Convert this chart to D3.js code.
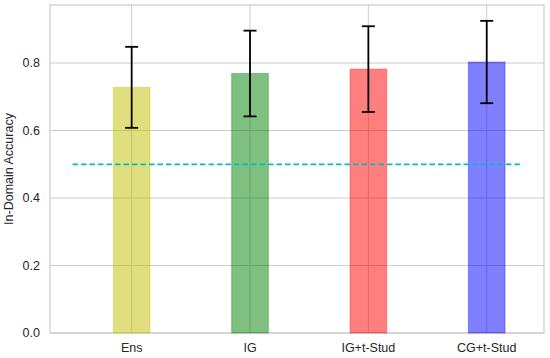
<!DOCTYPE html>
<html>
<head>
<meta charset="utf-8">
<script src="https://cdn.jsdelivr.net/npm/d3@7"></script>
<style>
  body { margin: 0; background: #fff; }
  svg text { font-family: "Liberation Sans", Arial, sans-serif; fill: #262626; }
</style>
</head>
<body>
<svg id="chart"></svg>
<script>
const categories = ["Ens", "IG", "IG+t-Stud", "CG+t-Stud"];
const accuracy = [0.728, 0.769, 0.782, 0.803];
const errors = [0.120, 0.127, 0.127, 0.122];
const barColors = ["#bfbf00", "#008000", "#ff0000", "#0000ff"];
const yTicks = [0.0, 0.2, 0.4, 0.6, 0.8];
const baseline = 0.5;

const width = 550, height = 358;
const margin = { top: 5, right: 6, bottom: 25, left: 50 };

const svg = d3.select("#chart").attr("width", width).attr("height", height);

// index-based x scale (matplotlib style positions)
const x = d3.scaleLinear()
    .domain([-0.69, categories.length - 1 + 0.484])
    .range([margin.left, width - margin.right]);
const y = d3.scaleLinear()
    .domain([0, 0.972])
    .range([height - margin.bottom, margin.top]);

const barW = 0.31;

// grid
svg.append("g").selectAll("line").data(yTicks).enter().append("line")
    .attr("x1", margin.left).attr("x2", width - margin.right)
    .attr("y1", d => y(d)).attr("y2", d => y(d))
    .attr("stroke", "#cccccc").attr("stroke-width", 1);
svg.append("g").selectAll("line").data(categories).enter().append("line")
    .attr("x1", (d, i) => x(i)).attr("x2", (d, i) => x(i))
    .attr("y1", margin.top).attr("y2", height - margin.bottom)
    .attr("stroke", "#cccccc").attr("stroke-width", 1);

// frame
svg.append("rect")
    .attr("x", margin.left).attr("y", margin.top)
    .attr("width", width - margin.left - margin.right)
    .attr("height", height - margin.top - margin.bottom)
    .attr("fill", "none").attr("stroke", "#cccccc").attr("stroke-width", 1.2);

// bars
svg.append("g").selectAll("rect").data(accuracy).enter().append("rect")
    .attr("x", (d, i) => x(i - barW / 2))
    .attr("width", (d, i) => x(i + barW / 2) - x(i - barW / 2))
    .attr("y", d => y(d))
    .attr("height", d => y(0) - y(d))
    .attr("fill", (d, i) => barColors[i]).attr("fill-opacity", 0.5)
    .attr("stroke", (d, i) => barColors[i]).attr("stroke-opacity", 0.35)
    .attr("stroke-width", 1);

// error bars
const eb = svg.append("g").attr("stroke", "#000").attr("stroke-width", 1.8);
accuracy.forEach((v, i) => {
    const cx = x(i);
    eb.append("line").attr("x1", cx).attr("x2", cx)
        .attr("y1", y(v + errors[i])).attr("y2", y(v - errors[i]));
    [v + errors[i], v - errors[i]].forEach(e => {
        eb.append("line").attr("x1", cx - 6.5).attr("x2", cx + 6.5)
            .attr("y1", y(e)).attr("y2", y(e));
    });
});

// dashed baseline
svg.append("line")
    .attr("x1", x(-0.5)).attr("x2", x(3.28))
    .attr("y1", y(baseline)).attr("y2", y(baseline))
    .attr("stroke", "#00bfbf").attr("stroke-width", 1.8)
    .attr("stroke-dasharray", "5.5,3");

// y tick labels
svg.append("g").selectAll("text").data(yTicks).enter().append("text")
    .attr("x", margin.left - 10).attr("y", d => y(d))
    .attr("dy", "0.35em").attr("text-anchor", "end")
    .style("font-size", "12.5px")
    .text(d => d.toFixed(1));

// x tick labels
svg.append("g").selectAll("text").data(categories).enter().append("text")
    .attr("x", (d, i) => x(i)).attr("y", height - margin.bottom + 18.5)
    .attr("text-anchor", "middle")
    .style("font-size", "12.5px")
    .text(d => d);

// y label
svg.append("text")
    .attr("transform", `translate(13, ${(margin.top + height - margin.bottom) / 2}) rotate(-90)`)
    .attr("text-anchor", "middle")
    .style("font-size", "12.5px")
    .text("In-Domain Accuracy");
</script>
</body>
</html>
